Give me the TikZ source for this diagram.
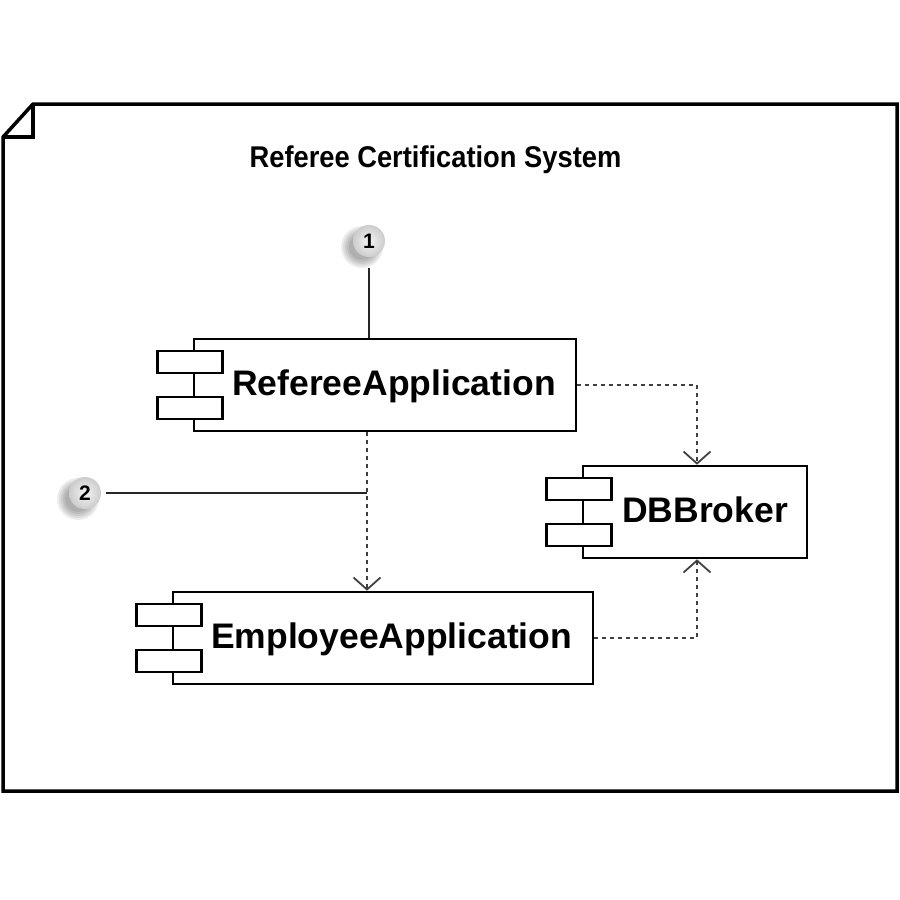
\documentclass[tikz,border=0pt]{standalone}
\usepackage{fontspec}
\setmainfont{Liberation Sans}
\usetikzlibrary{arrows.meta,calc,shadings}
\begin{document}
\begin{tikzpicture}[x=1pt,y=-1pt,
  frame/.style={line width=3.5pt,line join=miter},
  comp/.style={draw,line width=2.6pt,fill=white,inner sep=0pt,rectangle},
  tab/.style={draw,line width=2.6pt,fill=white},
  lbl/.style={font=\bfseries\fontsize{35.5}{40}\selectfont,inner sep=0pt},
  dep/.style={line width=2.5pt,draw=black!75,dash pattern=on 4pt off 4pt,
    -{Straight Barb[length=12pt,width=27pt,line width=1.8pt]}},
  note/.style={line width=2.4pt,draw=black!85},
  callout/.style={circle,minimum size=32pt,inner sep=0pt,shading=radial,
    inner color=gray!8,outer color=gray!40,
    font=\bfseries\fontsize{21}{22}\selectfont}
]
\useasboundingbox[fill=white] (0,0) rectangle (900,900);
% frame
\draw[frame] (33,104) -- (897,104) -- (897,791) -- (3,791) -- (3,137) -- cycle;
\draw[frame] (33,104) -- (33,137) -- (3,137);
\node[anchor=base,inner sep=0pt] (title) at (435.5,167)
  {\scalebox{0.91}[1]{\bfseries\fontsize{30}{32}\selectfont Referee Certification System}};

% components
\node[comp,minimum width=382pt,minimum height=92pt] (ref) at (385,385) {};
\node[comp,minimum width=224pt,minimum height=92pt] (db) at (695,512) {};
\node[comp,minimum width=420pt,minimum height=92pt] (emp) at (383,638) {};
\foreach \n in {ref,db,emp}{
  \draw[tab] ($(\n.west)+(-35,-34)$) rectangle ($(\n.west)+(30,-12)$);
  \draw[tab] ($(\n.west)+(-35,12)$) rectangle ($(\n.west)+(30,34)$);
}
\node[lbl,anchor=base west] (reflbl) at (232,395) {RefereeApplication};
\node[lbl,anchor=base west] (dblbl) at (622,522) {DBBroker};
\node[lbl,anchor=base west] (emplbl) at (211,648) {EmployeeApplication};

% dependencies
\coordinate (v) at (367,0);
\coordinate (w) at (697,0);
\draw[dep] (ref.east) -- (ref.east -| w) -- (db.north -| w);
\draw[dep] (ref.south -| v) -- (emp.north -| v);
\draw[dep] (emp.east) -- (emp.east -| w) -- (db.south -| w);

% callouts
\coordinate (c1pos) at (369,241);
\coordinate (c2pos) at (85,493);
\foreach \p in {c1pos,c2pos}{
  \foreach \r in {21,19,17,15,13}{
    \fill[black,opacity=0.07] ($(\p)+(-7,6)$) circle (\r pt);
  }
}
\node[callout] (c1) at (c1pos) {1};
\node[callout] (c2) at (c2pos) {2};
\draw[note,shorten <=11pt] (c1.south) -- (c1.south |- ref.north);
\draw[note,shorten <=5pt] (c2.east) -- (c2.east -| v);
\end{tikzpicture}
\end{document}
